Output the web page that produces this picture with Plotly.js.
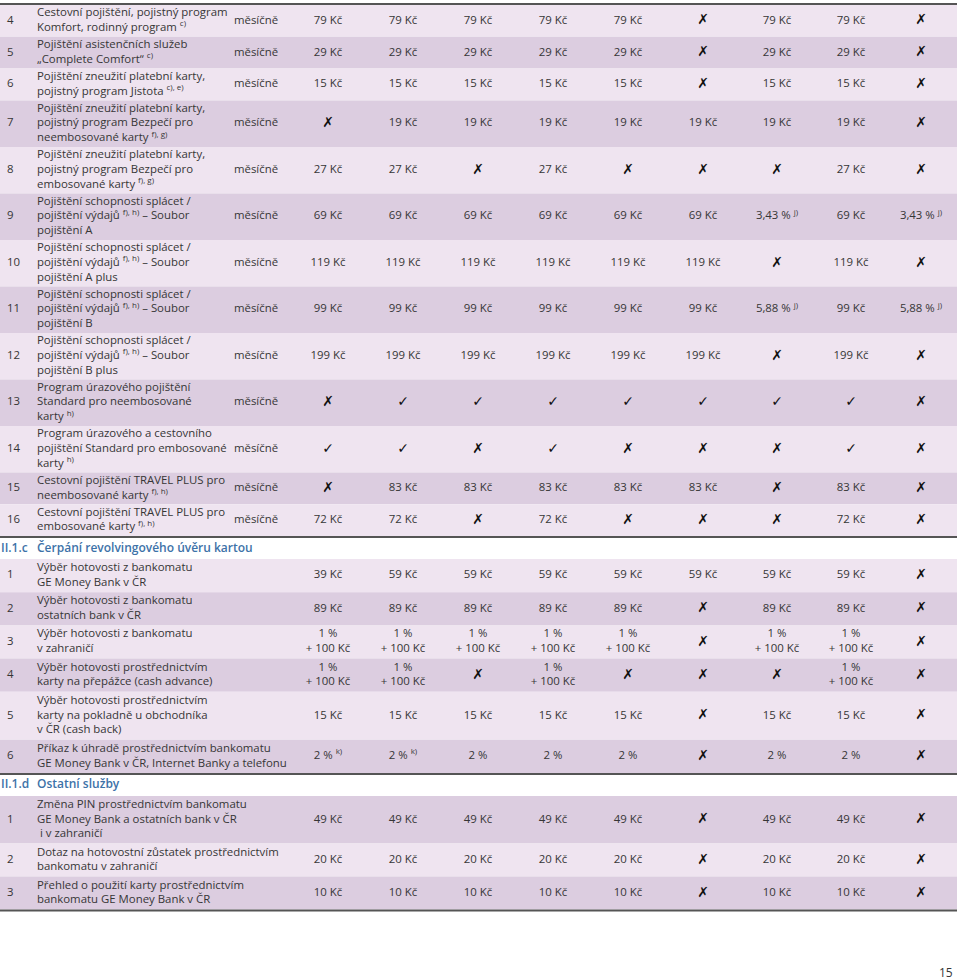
<!DOCTYPE html>
<html>
<head>
<meta charset="utf-8">
<script src="https://cdn.plot.ly/plotly-3.0.1.min.js"></script>
<style>
  html, body { margin: 0; padding: 0; background: #fff; }
  #chart { width: 960px; height: 980px; }
</style>
</head>
<body>
<div id="chart"></div>
<script>
// ---- data ----
// values: number -> "N Kč", 'x' -> ✗, 'v' -> ✓, 'p' -> "1 % + 100 Kč", other strings as-is
const sec1Nums = ['4', '5', '6', '7', '8', '9', '10', '11', '12', '13', '14', '15', '16'];
const sec1Desc = [
  'Cestovní pojištění, pojistný program<br>Komfort, rodinný program <sup>c)</sup>',
  'Pojištění asistenčních služeb<br>„Complete Comfort“ <sup>c)</sup>',
  'Pojištění zneužití platební karty,<br>pojistný program Jistota <sup>c), e)</sup>',
  'Pojištění zneužití platební karty,<br>pojistný program Bezpečí pro<br>neembosované karty <sup>f), g)</sup>',
  'Pojištění zneužití platební karty,<br>pojistný program Bezpečí pro<br>embosované karty <sup>f), g)</sup>',
  'Pojištění schopnosti splácet /<br>pojištění výdajů <sup>f), h)</sup> – Soubor<br>pojištění A',
  'Pojištění schopnosti splácet /<br>pojištění výdajů <sup>f), h)</sup> – Soubor<br>pojištění A plus',
  'Pojištění schopnosti splácet /<br>pojištění výdajů <sup>f), h)</sup> – Soubor<br>pojištění B',
  'Pojištění schopnosti splácet /<br>pojištění výdajů <sup>f), h)</sup> – Soubor<br>pojištění B plus',
  'Program úrazového pojištění<br>Standard pro neembosované<br>karty <sup>h)</sup>',
  'Program úrazového a cestovního<br>pojištění Standard pro embosované<br>karty <sup>h)</sup>',
  'Cestovní pojištění TRAVEL PLUS pro<br>neembosované karty <sup>f), h)</sup>',
  'Cestovní pojištění TRAVEL PLUS pro<br>embosované karty <sup>f), h)</sup>'
];
const sec1Freq = sec1Nums.map(() => 'měsíčně');
const sec1Vals = [
  [79, 79, 79, 79, 79, 'x', 79, 79, 'x'],
  [29, 29, 29, 29, 29, 'x', 29, 29, 'x'],
  [15, 15, 15, 15, 15, 'x', 15, 15, 'x'],
  ['x', 19, 19, 19, 19, 19, 19, 19, 'x'],
  [27, 27, 'x', 27, 'x', 'x', 'x', 27, 'x'],
  [69, 69, 69, 69, 69, 69, '3,43 % <sup>j)</sup>', 69, '3,43 % <sup>j)</sup>'],
  [119, 119, 119, 119, 119, 119, 'x', 119, 'x'],
  [99, 99, 99, 99, 99, 99, '5,88 % <sup>j)</sup>', 99, '5,88 % <sup>j)</sup>'],
  [199, 199, 199, 199, 199, 199, 'x', 199, 'x'],
  ['x', 'v', 'v', 'v', 'v', 'v', 'v', 'v', 'x'],
  ['v', 'v', 'x', 'v', 'x', 'x', 'x', 'v', 'x'],
  ['x', 83, 83, 83, 83, 83, 'x', 83, 'x'],
  [72, 72, 'x', 72, 'x', 'x', 'x', 72, 'x']
];

const secCCode = 'II.1.c';
const secCTitle = 'Čerpání revolvingového úvěru kartou';
const secCNums = ['1', '2', '3', '4', '5', '6'];
const secCDesc = [
  'Výběr hotovosti z bankomatu<br>GE Money Bank v ČR',
  'Výběr hotovosti z bankomatu<br>ostatních bank v ČR',
  'Výběr hotovosti z bankomatu<br>v zahraničí',
  'Výběr hotovosti prostřednictvím<br>karty na přepážce (cash advance)',
  'Výběr hotovosti prostřednictvím<br>karty na pokladně u obchodníka<br>v ČR (cash back)',
  'Příkaz k úhradě prostřednictvím bankomatu<br>GE Money Bank v ČR, Internet Banky a telefonu'
];
const secCVals = [
  [39, 59, 59, 59, 59, 59, 59, 59, 'x'],
  [89, 89, 89, 89, 89, 'x', 89, 89, 'x'],
  ['p', 'p', 'p', 'p', 'p', 'x', 'p', 'p', 'x'],
  ['p', 'p', 'x', 'p', 'x', 'x', 'x', 'p', 'x'],
  [15, 15, 15, 15, 15, 'x', 15, 15, 'x'],
  ['2 % <sup>k)</sup>', '2 % <sup>k)</sup>', '2 %', '2 %', '2 %', 'x', '2 %', '2 %', 'x']
];

const secDCode = 'II.1.d';
const secDTitle = 'Ostatní služby';
const secDNums = ['1', '2', '3'];
const secDDesc = [
  'Změna PIN prostřednictvím bankomatu<br>GE Money Bank a ostatních bank v ČR<br> i v zahraničí',
  'Dotaz na hotovostní zůstatek prostřednictvím<br>bankomatu v zahraničí',
  'Přehled o použití karty prostřednictvím<br>bankomatu GE Money Bank v ČR'
];
const secDVals = [
  [49, 49, 49, 49, 49, 'x', 49, 49, 'x'],
  [20, 20, 20, 20, 20, 'x', 20, 20, 'x'],
  [10, 10, 10, 10, 10, 'x', 10, 10, 'x']
];

const pageNumber = '15';

// ---- layout constants ----
const FONT = 'Open Sans, DejaVu Sans, sans-serif';
const TEXT = '#363636';
const LIGHT = '#efe4f0';
const DARK = '#dccde0';
const BLUE = '#3d72a8';
const TABLE_W = 957;
const LINE_H = 14.7;
const HEAD_H = 21;
const colX = [328, 403, 478, 553, 628, 703, 777, 851, 921];

function fmt(v) {
  if (typeof v === 'number') return v + ' Kč';
  if (v === 'x') return '✗';
  if (v === 'v') return '✓';
  if (v === 'p') return '1 %<br>+ 100 Kč';
  return v;
}
// smaller footnote marks, like the printed table
const small = s => s.replace(/<sup>(.*?)<\/sup>/g, '<sup><span style="font-size:8px">$1</span></sup>');
const lines = s => s.split('<br>').length;

// ---- build rows ----
const band = { y: [], h: [], c: [] };
const num = { y: [], t: [] }, desc = { y: [], t: [] }, freq = { y: [], t: [] };
const cell = { x: [], y: [], t: [] }, mark = { x: [], y: [], t: [] };
const head = { y: [], code: [], title: [] };
const borders = [];
let cursor = 3;

function border() {
  borders.push(cursor);
  cursor += 2;
}
function header(code, title) {
  head.y.push(cursor + HEAD_H / 2);
  head.code.push(code);
  head.title.push(title);
  cursor += HEAD_H;
}
function section(nums, descs, freqs, vals, pad, darkFirst) {
  nums.forEach((n, i) => {
    const cells = vals[i].map(fmt);
    const nl = Math.max(lines(descs[i]), ...cells.map(lines));
    const h = nl * LINE_H + pad;
    const yc = cursor + h / 2;
    band.y.push(yc); band.h.push(h);
    band.c.push((i % 2 === 0) !== darkFirst ? LIGHT : DARK);
    num.y.push(yc); num.t.push(n);
    desc.y.push(yc); desc.t.push(small(descs[i]));
    if (freqs) { freq.y.push(yc); freq.t.push(freqs[i]); }
    cells.forEach((t, j) => {
      const dst = (t === '✗' || t === '✓') ? mark : cell;
      dst.x.push(colX[j]); dst.y.push(yc); dst.t.push(small(t));
    });
    cursor += h;
  });
}

border();
section(sec1Nums, sec1Desc, sec1Freq, sec1Vals, 2.4, false);
border();
header(secCCode, secCTitle);
section(secCNums, secCDesc, null, secCVals, 3.8, false);
border();
header(secDCode, secDTitle);
section(secDNums, secDDesc, null, secDVals, 3.6, true);
border();

const font = { family: FONT, size: 11.4, color: TEXT };
const textTrace = (x, y, t, pos, f) => ({
  type: 'scatter', mode: 'text', x: x, y: y, text: t,
  textposition: pos, textfont: f || font, hoverinfo: 'skip', showlegend: false, cliponaxis: false
});

const traces = [
  {
    type: 'bar', orientation: 'h',
    y: band.y, x: band.y.map(() => TABLE_W), base: 0, width: band.h,
    marker: { color: band.c, line: { width: 0 } },
    hoverinfo: 'skip', showlegend: false
  },
  textTrace(num.y.map(() => 7), num.y, num.t, 'middle right'),
  textTrace(desc.y.map(() => 37), desc.y, desc.t, 'middle right'),
  textTrace(freq.y.map(() => 234), freq.y, freq.t, 'middle right'),
  textTrace(cell.x, cell.y, cell.t, 'middle center'),
  textTrace(mark.x, mark.y, mark.t, 'middle center',
    { family: 'DejaVu Sans, sans-serif', size: 14, color: '#111' }),
  textTrace(head.y.map(() => 1), head.y, head.code, 'middle right',
    { family: FONT, size: 12, color: BLUE, weight: 600 }),
  textTrace(head.y.map(() => 37), head.y, head.title, 'middle right',
    { family: FONT, size: 12, color: BLUE, weight: 600 })
];

const layout = {
  width: 960, height: 980,
  margin: { l: 0, r: 0, t: 0, b: 0 },
  paper_bgcolor: '#fff', plot_bgcolor: '#fff',
  showlegend: false,
  xaxis: { range: [0, 960], visible: false, fixedrange: true },
  yaxis: { range: [980, 0], visible: false, fixedrange: true },
  shapes: borders.map(y => ({
    type: 'line', xref: 'x', yref: 'y', x0: 0, x1: TABLE_W, y0: y + 1, y1: y + 1,
    line: { color: '#555', width: 2 }
  })),
  annotations: [{
    xref: 'x', yref: 'y', x: 946, y: 972, text: pageNumber, showarrow: false,
    font: { family: FONT, size: 12, color: TEXT }
  }]
};

Plotly.newPlot('chart', traces, layout, { displayModeBar: false, staticPlot: true });
</script>
</body>
</html>
